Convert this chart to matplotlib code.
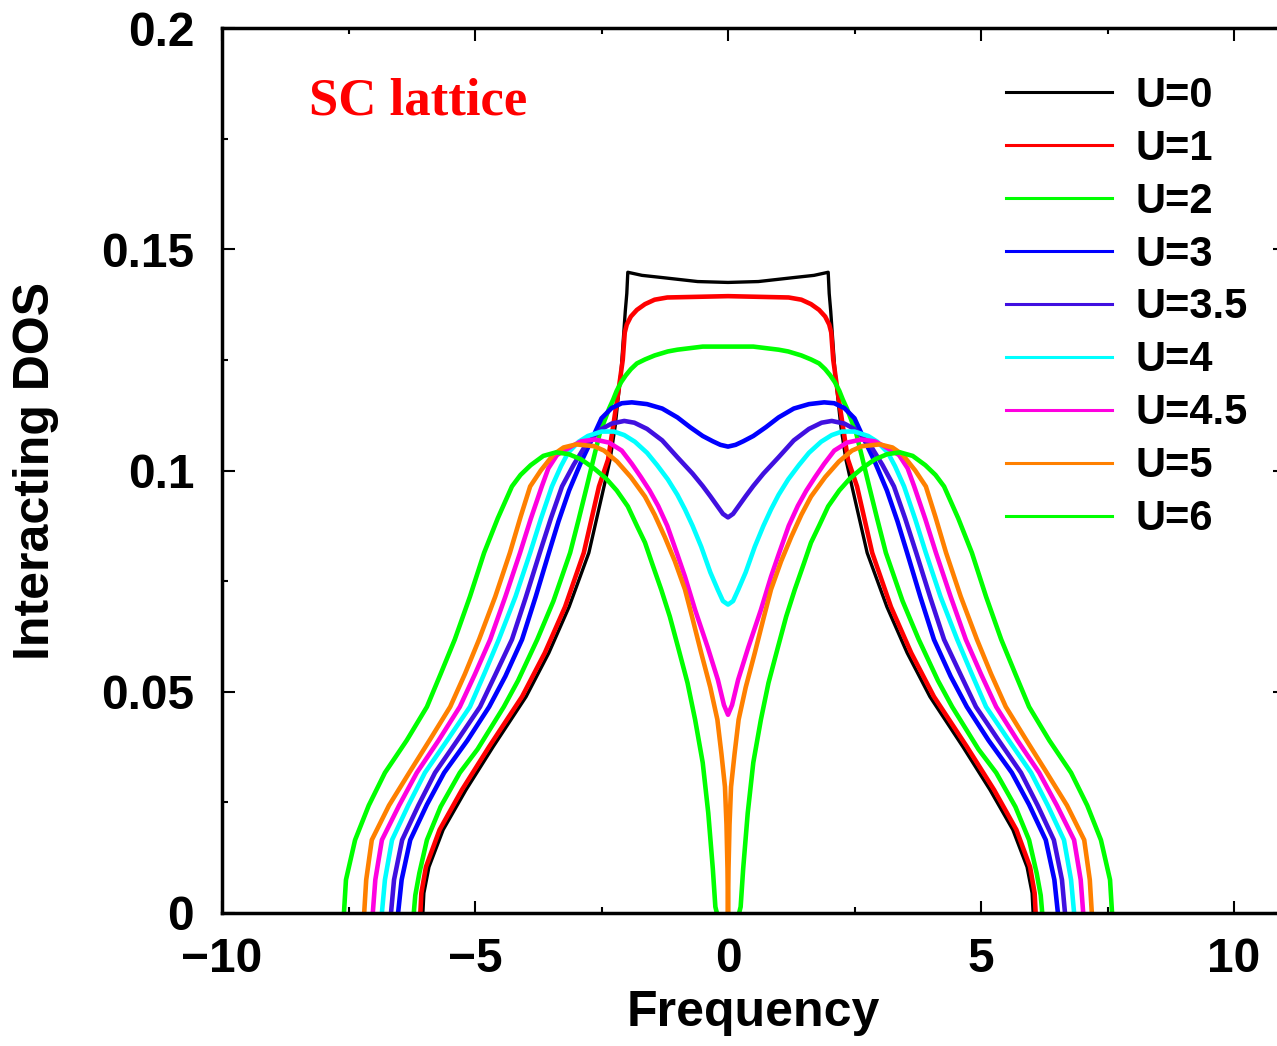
import numpy as np
import matplotlib.pyplot as plt
from matplotlib.lines import Line2D
from matplotlib.ticker import MultipleLocator

plt.rcParams['font.family'] = ['Liberation Sans', 'DejaVu Sans']
plt.rcParams['font.weight'] = 'bold'

# right half of each curve (the DOS is symmetric in frequency)
labels = ['U=0', 'U=1', 'U=2', 'U=3', 'U=3.5', 'U=4', 'U=4.5', 'U=5', 'U=6']
colors = ['#000000', '#ff0000', '#00ff00', '#0000ff', '#4010e0',
          '#00ffff', '#ff00e0', '#ff8000', '#00ff00']

x_u0 = [0, 0.6, 1.3, 1.7, 1.98, 2.0, 2.03, 2.11, 2.23, 2.33, 2.45, 2.75, 3.14, 3.54, 3.99, 4.64, 5.18, 5.63, 5.91, 6.01, 6.03]
y_u0 = [.1425, .1427, .1436, .1441, .1448, .1400, .1360, .1229, .110, .1025, .0964, .0814, .0692, .0588, .0489, .0376, .0278, .0188, .0104, .0045, 0]

x_u1 = [0, 1.2, 1.45, 1.64, 1.8, 1.92, 2.0, 2.04, 2.08, 2.17, 2.27, 2.37, 2.55, 2.85, 3.22, 3.62, 4.07, 4.72, 5.26, 5.7, 5.97, 6.06, 6.08]
y_u1 = [.1394, .1391, .1386, .1376, .1363, .1348, .133, .1312, .125, .1176, .110, .1025, .0964, .0814, .0692, .0588, .0489, .0376, .0278, .0188, .0104, .0045, 0]

x_u2 = [0, 0.5, 1.0, 1.19, 1.45, 1.64, 1.8, 1.92, 2.02, 2.11, 2.2, 2.27, 2.35, 2.41, 2.53, 2.65, 2.79, 2.95, 3.12, 3.45, 3.77,
        4.15, 4.43, 4.95, 5.30, 5.68, 5.95, 6.10, 6.18, 6.21]
y_u2 = [.128, .128, .1273, .1269, .126, .1251, .1242, .1229, .1215, .120, .118, .116, .114, .1122, .1086, .103, .0964, .089, .0814, .0705, .0618,
        .0525, .0466, .037, .0317, .024, .0165, .009, .004, 0]

x_u3 = [0, 0.15, 0.3, 0.5, 0.75, 1.0, 1.3, 1.6, 1.9, 2.1, 2.3, 2.5, 2.7, 2.9, 3.14, 3.35, 3.54, 3.8, 4.07, 4.4, 4.72,
        5.15, 5.61, 5.95, 6.28, 6.45, 6.52]
y_u3 = [.1054, .1058, .1066, .1078, .1098, .112, .114, .115, .1154, .1152, .1141, .1118, .1068, .102, .0955, .0885, .0814, .0715, .0618, .0535, .0466,
        .039, .0317, .0245, .0165, .0075, 0]

x_u35 = [0, 0.1, 0.2, 0.35, 0.5, 0.7, 1.0, 1.3, 1.6, 1.85, 2.05, 2.3, 2.51, 2.7, 2.83, 3.05, 3.28, 3.5, 3.72, 4.0, 4.27,
         4.6, 4.9, 5.35, 5.79, 6.12, 6.44, 6.6, 6.66]
y_u35 = [.0894, .0902, .0918, .0942, .0965, .0993, .103, .1068, .1094, .1108, .1112, .1106, .1093, .1072, .1054, .1013, .0964, .0892, .0814, .0712, .0618,
         .0538, .0466, .039, .0317, .0243, .0165, .0075, 0]

x_u4 = [0, 0.1, 0.2, 0.35, 0.53, 0.7, 0.85, 1.0, 1.19, 1.4, 1.6, 1.84, 2.05, 2.25, 2.5, 2.77, 2.95, 3.16, 3.3, 3.48, 3.7,
        3.91, 4.2, 4.53, 4.8, 5.10, 5.55, 5.99, 6.32, 6.64, 6.78, 6.84]
y_u4 = [.0697, .0705, .073, .077, .0828, .0875, .0912, .0945, .098, .1012, .104, .1065, .108, .1088, .1088, .1078, .1065, .104, .101, .0964, .089,
        .0814, .0715, .0618, .0545, .0466, .039, .0317, .0243, .0165, .0075, 0]

x_u45 = [0, 0.08, 0.2, 0.4, 0.65, 0.85, 1.0, 1.2, 1.38, 1.55, 1.72, 1.9, 2.1, 2.35, 2.63, 2.9, 3.1, 3.38, 3.55, 3.68, 3.9,
         4.11, 4.4, 4.70, 5.0, 5.30, 5.72, 6.15, 6.5, 6.84, 6.97, 7.02]
y_u45 = [.0448, .047, .0527, .06, .0685, .076, .081, .0875, .092, .0955, .0985, .1015, .1045, .1063, .107, .1066, .1054, .1035, .1005, .0964, .089,
         .0814, .0715, .0618, .054, .0466, .039, .0317, .0243, .0165, .0075, 0]

x_u5 = [0, 0.01, 0.03, 0.06, 0.13, 0.21, 0.35, 0.53, 0.7, 0.85, 1.05, 1.25, 1.45, 1.64, 1.92, 2.19, 2.45, 2.65, 3.0, 3.25, 3.45,
        3.7, 3.91, 4.1, 4.31, 4.6, 4.92, 5.2, 5.49, 5.9, 6.30, 6.7, 7.04, 7.15, 7.19]
y_u5 = [0, .01, .02, .0285, .036, .0437, .051, .0588, .0665, .0731, .0795, .085, .09, .0941, .0985, .102, .1045, .1055, .1059, .1052, .1036,
        .1, .0964, .0895, .0814, .0715, .0618, .054, .0466, .039, .0317, .0243, .0165, .0075, 0]

x_u6 = [0.22, 0.25, 0.3, 0.39, 0.5, 0.65, 0.8, 0.99, 1.15, 1.32, 1.5, 1.64, 1.8, 1.98, 2.2, 2.41, 2.65, 2.9, 3.15, 3.4, 3.65,
        3.9, 4.1, 4.27, 4.55, 4.82, 5.1, 5.40, 5.68, 5.95, 6.35, 6.78, 7.1, 7.37, 7.5, 7.55, 7.59]
y_u6 = [0, .0014, .01, .0226, .034, .0437, .052, .0602, .067, .0731, .079, .0837, .0875, .0919, .0955, .0982, .1005, .1025, .1037, .1041, .1033,
        .1012, .099, .0964, .0892, .0814, .0715, .0618, .054, .0466, .039, .0317, .0243, .0165, .01, .0075, 0]

xs = [x_u0, x_u1, x_u2, x_u3, x_u35, x_u4, x_u45, x_u5, x_u6]
ys = [y_u0, y_u1, y_u2, y_u3, y_u35, y_u4, y_u45, y_u5, y_u6]

fig = plt.figure(figsize=(12.77, 10.46), dpi=100)
ax = fig.add_axes([222 / 1277, 1 - 913 / 1046, (1284.6 - 222) / 1277, 885 / 1046])

for i in range(len(labels)):
    xr = np.array(xs[i])
    yr = np.array(ys[i])
    if xr[0] > 0:
        # gap around zero, keep the two branches apart
        xf = np.concatenate([-xr[::-1], [np.nan], xr])
        yf = np.concatenate([yr[::-1], [np.nan], yr])
    else:
        xf = np.concatenate([-xr[::-1], xr[1:]])
        yf = np.concatenate([yr[::-1], yr[1:]])
    lw = 2.4 if i == 0 else 3.3
    ax.plot(xf, yf, color=colors[i], lw=lw, zorder=3 + i * 0.01,
            solid_joinstyle='round')

ax.set_xlim(-10, 11)
ax.set_ylim(0, 0.2)
ax.xaxis.set_major_locator(MultipleLocator(5))
ax.xaxis.set_minor_locator(MultipleLocator(2.5))
ax.yaxis.set_minor_locator(MultipleLocator(0.025))
ax.set_yticks([0, 0.05, 0.1, 0.15, 0.2])
ax.set_yticklabels(['0', '0.05', '0.1', '0.15', '0.2'])
ax.tick_params(which='both', direction='in', top=True, right=True, width=1.5)
ax.tick_params(which='major', length=9, labelsize=34.5, pad=17)
ax.tick_params(which='minor', length=4.5)
ax.tick_params(axis='y', pad=20)
for s in ax.spines.values():
    s.set_linewidth(2.5)
    s.set_zorder(10)

ax.set_xlabel('Frequency', fontsize=36, fontweight='bold', labelpad=6)
ax.set_ylabel('Interacting DOS', fontsize=36, fontweight='bold', labelpad=30)

ax.text(-8.28, 0.1805, 'SC lattice', color='#ff0000', fontsize=38,
        fontweight='bold', family=['Liberation Serif', 'DejaVu Serif'])

handles = [Line2D([], [], color=c, lw=2.2) for c in colors]
ax.legend(handles, labels, loc='upper left', bbox_to_anchor=(0.738, 0.946),
          frameon=False, fontsize=30, handlelength=2.55, handletextpad=0.55,
          labelspacing=0.31, borderpad=0, borderaxespad=0)

fig.savefig('out.png', dpi=100)
